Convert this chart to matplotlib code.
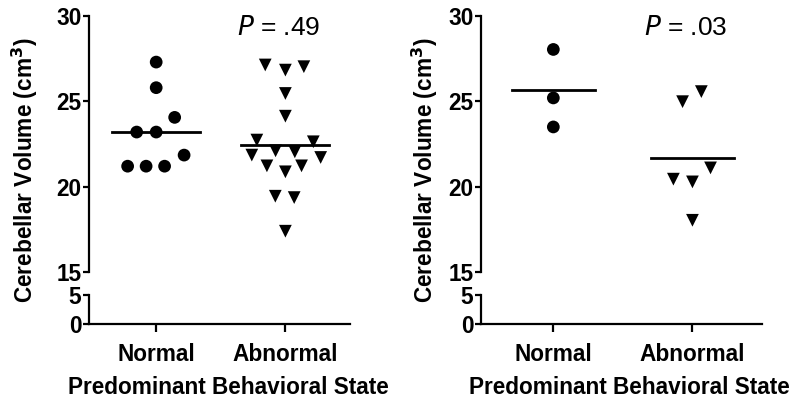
import numpy as np
import matplotlib
matplotlib.use('Agg')
import matplotlib.pyplot as plt

plt.rcParams['font.family'] = ['Liberation Sans', 'DejaVu Sans']

# --- data ---
categories = ['Normal', 'Abnormal']

# left panel
left_normal = [27.3, 25.8, 24.06, 23.2, 23.2, 21.85, 21.2, 21.2, 21.2]
left_normal_dx = [0, 0, 0.143, -0.151, 0, 0.216, -0.221, -0.078, 0.065]
left_abnormal = [27.13, 26.83, 27.03, 25.46, 24.13, 22.73, 22.63, 21.85, 22.1,
                 22.04, 21.71, 21.22, 21.22, 20.87, 19.44, 19.36, 17.39]
left_abnormal_dx = [-0.156, 0, 0.143, 0, 0, -0.221, 0.216, -0.26, -0.076,
                    0.073, 0.273, -0.143, 0.125, 0, -0.078, 0.068, 0]
left_means = [23.2, 22.47]
left_p = 'P = .49'

# right panel
right_normal = [28.04, 25.2, 23.5]
right_normal_dx = [0, 0, 0]
right_abnormal = [24.98, 25.57, 21.1, 20.44, 20.28, 18.03]
right_abnormal_dx = [-0.071, 0.064, 0.13, -0.137, 0, 0]
right_means = [25.64, 21.69]
right_p = 'P = .03'

W, H = 797, 403
fig = plt.figure(figsize=(W / 100, H / 100), dpi=100)

LW = 1.6
FS = 16.3


def px_box(x0, x1, ytop, ybot):
    # pixel box -> figure fraction [left, bottom, width, height]
    return [x0 / W, 1 - ybot / H, (x1 - x0) / W, (ybot - ytop) / H]


def panel(x0, x1, normal, ndx, abnormal, adx, means, ptxt, half):
    top = fig.add_axes(px_box(x0, x1, 16, 272))
    bot = fig.add_axes(px_box(x0, x1, 295, 324))
    for ax in (top, bot):
        ax.set_xlim(0.48, 2.5)
        for s in ('top', 'right'):
            ax.spines[s].set_visible(False)
        ax.spines['left'].set_linewidth(LW)
        ax.spines['bottom'].set_linewidth(LW)
        ax.tick_params(axis='y', width=LW, length=4.5, labelsize=FS, pad=1)
    top.set_ylim(15, 30)
    top.set_yticks([15, 20, 25, 30])
    top.spines['bottom'].set_visible(False)
    top.set_xticks([])
    bot.set_ylim(0, 5)
    bot.set_yticks([0, 5])
    bot.set_xticks([1, 2])
    bot.set_xticklabels(categories, fontsize=FS, fontweight='bold')
    bot.tick_params(axis='x', width=LW, length=6, pad=8)
    for ax in (top, bot):
        for lab in ax.get_yticklabels():
            lab.set_fontweight('bold')

    top.scatter(1 + np.array(ndx), normal, marker='o', s=84, color='black',
                edgecolors='none', clip_on=False, zorder=3)
    top.scatter(2 + np.array(adx), abnormal, marker='v', s=84, color='black',
                edgecolors='none', clip_on=False, zorder=3)
    for i, m in enumerate(means):
        top.plot([i + 1 - half, i + 1 + half], [m, m], color='black', lw=LW + 0.4,
                 zorder=2)
    top.text(1.95, 29.3, ptxt.replace('P', '$\\it{P}$'), fontsize=19,
             ha='center', va='center')
    return top, bot


panel(89, 350, left_normal, left_normal_dx, left_abnormal, left_abnormal_dx,
      left_means, left_p, 0.34)
panel(481, 762, right_normal, right_normal_dx, right_abnormal, right_abnormal_dx,
      right_means, right_p, 0.30)

ylab = 'Cerebellar Volume (cm$^\\mathbf{3}$)'
for xc in (25, 425):
    fig.text(xc / W, 1 - 170 / H, ylab, rotation=90, ha='center', va='center',
             fontsize=FS, fontweight='bold')
for xc in (228, 629):
    fig.text(xc / W, 1 - 387 / H, 'Predominant Behavioral State', ha='center',
             va='center', fontsize=FS, fontweight='bold')

fig.savefig('out.png', dpi=100)
